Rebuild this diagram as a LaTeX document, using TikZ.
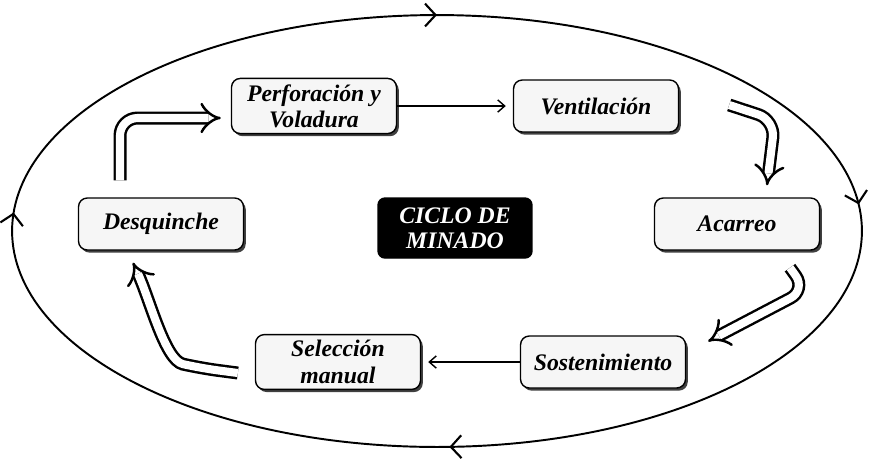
\documentclass[tikz,border=0pt]{standalone}
\usepackage{fontspec}
\setmainfont{Liberation Serif}
\usetikzlibrary{arrows.meta,calc,shadows,decorations.markings}

\tikzset{
  caja/.style={draw=black, thick, rounded corners=5pt, fill=gray!7,
    minimum width=3.3cm, minimum height=1.04cm, align=center,
    font=\fontsize{13.5}{15}\selectfont\bfseries\itshape,
    drop shadow={shadow xshift=1.3pt, shadow yshift=-1.5pt, fill=black!75, opacity=1}},
  ciclo/.style={draw=black, thick, rounded corners=4pt, fill=black, text=white,
    minimum width=3.08cm, minimum height=1.2cm, align=center,
    font=\fontsize{13.5}{14}\selectfont\bfseries\itshape},
  hueca/.style={draw=black, line width=1.4pt, double=white, double distance=4.6pt,
    rounded corners=10pt, -{Implies}},
  flecha/.style={black, thick, shorten >=4pt, -{Straight Barb[length=4pt,width=7pt]}},
  punta/.tip={Straight Barb[length=6pt,width=13pt,line width=1.2pt]},
  anillo/.style={line width=1.1pt, postaction={decorate}, decoration={markings,
    mark=at position 0.013 with {\arrowreversed{punta}},
    mark=at position 0.25 with {\arrowreversed{punta}},
    mark=at position 0.491 with {\arrowreversed{punta}},
    mark=at position 0.756 with {\arrowreversed{punta}}}}
}

\begin{document}
\begin{tikzpicture}[x=0.02cm, y=0.02cm]
        \useasboundingbox (0,0) rectangle (875,-461);
        \draw[anillo] (437,-231) ellipse [x radius=8.5cm, y radius=4.32cm];

        \node[caja] (perf) at (314,-106) {Perforación y\\Voladura};
        \node[caja] (vent) at (596,-106) {Ventilación};
        \node[caja] (acar) at (737,-224) {Acarreo};
        \node[caja] (desq) at (161,-224) {Desquinche};
        \node[caja] (sost) at (603,-362) {Sostenimiento};
        \node[caja] (sel) at (338,-362) {Selección\\manual};
        \node[ciclo] (cic) at (455,-228) {CICLO DE\\MINADO};

        \draw[flecha] (perf) -- (vent);
        \draw[flecha] (sost) -- (sel);

        \draw[hueca] ($(desq.north)+(-41,17)$) |- ($(perf.west)+(-10,-12)$);
        \draw[hueca] ($(vent.east)+(50,1)$) -- (775,-120) -- ($(acar.north)+(30,12)$);
        \draw[hueca] ($(acar.south)+(53,-17)$) -- (806,-290) -- ($(sost.north east)+(22,-6)$);
        \draw[hueca] ($(sel.west)+(-17,-11)$) -- (200,-368) .. controls (165,-360) and (150,-300) .. ($(desq.south)+(-28,-12)$);
\end{tikzpicture}
\end{document}
